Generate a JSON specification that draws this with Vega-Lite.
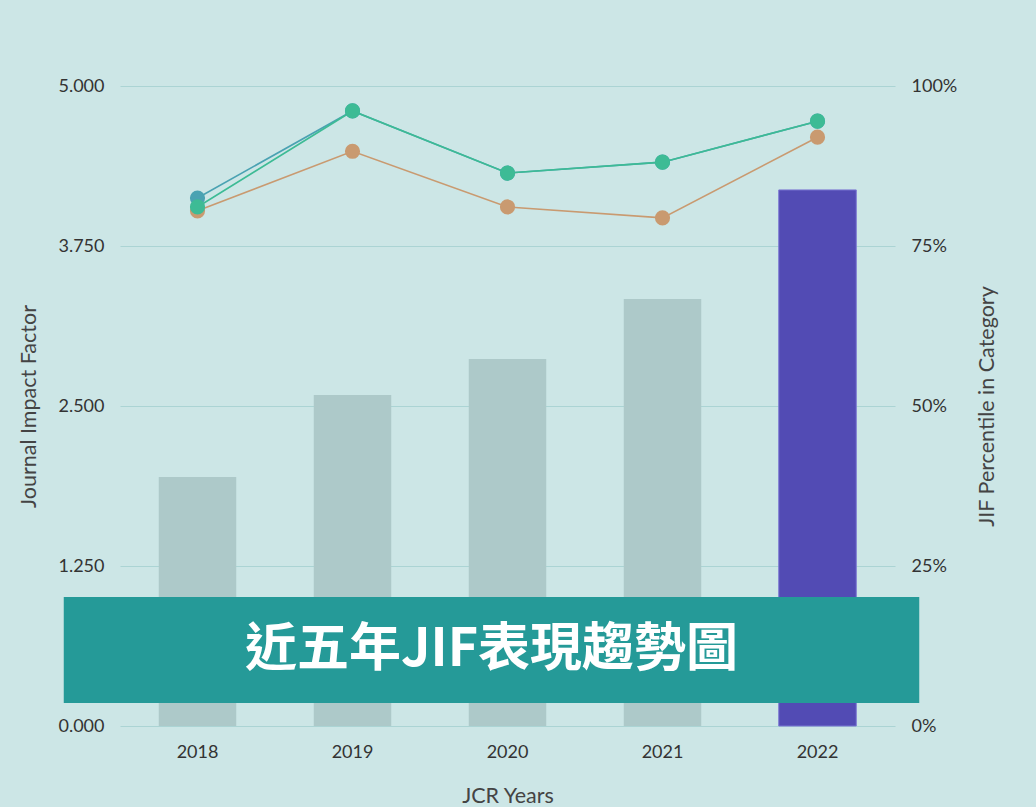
{
  "$schema": "https://vega.github.io/schema/vega-lite/v6.json",
  "width": 775,
  "height": 640,
  "autosize": {"type": "none"},
  "padding": {"left": 120, "top": 86, "right": 141, "bottom": 81},
  "background": "#cce6e6",
  "config": {
    "view": {"stroke": null},
    "font": "Lato",
    "axis": {"labelColor": "#333333", "titleColor": "#444444", "labelFontSize": 18, "titleFontSize": 21.5, "titleFontWeight": "normal", "labelFont": "Lato", "titleFont": "Lato"}
  },
  "datasets": {
    "jif": [
      {"year": "2018", "jif": 1.945},
      {"year": "2019", "jif": 2.586},
      {"year": "2020", "jif": 2.867},
      {"year": "2021", "jif": 3.336},
      {"year": "2022", "jif": 4.188}
    ],
    "pct": [
      {"year": "2018", "series": "Category A", "pct": 0.805},
      {"year": "2019", "series": "Category A", "pct": 0.898},
      {"year": "2020", "series": "Category A", "pct": 0.811},
      {"year": "2021", "series": "Category A", "pct": 0.794},
      {"year": "2022", "series": "Category A", "pct": 0.920},
      {"year": "2018", "series": "Category B", "pct": 0.825},
      {"year": "2019", "series": "Category B", "pct": 0.961},
      {"year": "2020", "series": "Category B", "pct": 0.864},
      {"year": "2021", "series": "Category B", "pct": 0.881},
      {"year": "2022", "series": "Category B", "pct": 0.945},
      {"year": "2018", "series": "Category C", "pct": 0.811},
      {"year": "2019", "series": "Category C", "pct": 0.961},
      {"year": "2020", "series": "Category C", "pct": 0.864},
      {"year": "2021", "series": "Category C", "pct": 0.881},
      {"year": "2022", "series": "Category C", "pct": 0.945}
    ],
    "banner": [
      {"from": "2018", "to": "2022", "mid": "2020", "lo": 0.18, "hi": 1.008, "ymid": 0.594, "label": "近五年JIF表現趨勢圖"}
    ]
  },
  "encoding": {
    "x": {
      "field": "year", "type": "ordinal",
      "scale": {"domain": ["2018", "2019", "2020", "2021", "2022"], "paddingInner": 0.5, "paddingOuter": 0.25},
      "axis": {"title": "JCR Years", "labelAngle": 0, "domain": false, "ticks": false, "labelPadding": 17, "titlePadding": 24, "grid": false}
    }
  },
  "layer": [
    {
      "layer": [
        {
          "data": {"name": "jif"},
          "mark": {"type": "bar", "strokeWidth": 1},
          "encoding": {
            "y": {
              "field": "jif", "type": "quantitative",
              "scale": {"domain": [0, 5], "nice": false},
              "axis": {"title": "Journal Impact Factor", "values": [0, 1.25, 2.5, 3.75, 5], "format": ".3f", "domain": false, "ticks": false, "labelPadding": 16, "titlePadding": 17, "grid": true, "gridColor": "#abd4d4", "gridWidth": 1}
            },
            "color": {"condition": {"test": "datum.year == '2022'", "value": "#524bb4"}, "value": "#adc9c9"},
            "stroke": {"condition": {"test": "datum.year == '2022'", "value": "#7b76d2"}, "value": null}
          }
        },
        {
          "data": {"name": "banner"},
          "mark": {"type": "rect", "color": "#259a98", "xOffset": -95, "x2Offset": 63},
          "encoding": {
            "x": {"field": "from", "type": "ordinal", "bandPosition": 0},
            "x2": {"field": "to", "bandPosition": 1},
            "y": {"field": "lo", "type": "quantitative"},
            "y2": {"field": "hi"}
          }
        },
        {
          "data": {"name": "banner"},
          "mark": {"type": "text", "color": "#ffffff", "font": "Noto Sans CJK TC", "fontWeight": "bold", "fontSize": 52, "baseline": "middle", "align": "center", "dx": -16},
          "encoding": {
            "x": {"field": "mid", "type": "ordinal"},
            "y": {"field": "ymid", "type": "quantitative"},
            "text": {"field": "label"}
          }
        }
      ]
    },
    {
      "data": {"name": "pct"},
      "encoding": {
        "y": {
          "field": "pct", "type": "quantitative",
          "scale": {"domain": [0, 1], "nice": false},
          "axis": {"title": "JIF Percentile in Category", "orient": "right", "values": [0, 0.25, 0.5, 0.75, 1], "format": ".0%", "domain": false, "ticks": false, "grid": false, "labelPadding": 16, "titlePadding": 42, "titleAngle": 270}
        },
        "color": {"field": "series", "type": "nominal", "scale": {"domain": ["Category A", "Category B", "Category C"], "range": ["#c99a70", "#4aa2b2", "#3dbb95"]}, "legend": null}
      },
      "layer": [
        {
          "mark": {"type": "line"},
          "encoding": {
            "strokeWidth": {"field": "series", "type": "nominal", "scale": {"domain": ["Category A", "Category B", "Category C"], "range": [1.6, 1.6, 2.4]}, "legend": null}
          }
        },
        {
          "mark": {"type": "point", "filled": true, "opacity": 1, "size": 230}
        }
      ]
    }
  ],
  "resolve": {"scale": {"y": "independent"}}
}
